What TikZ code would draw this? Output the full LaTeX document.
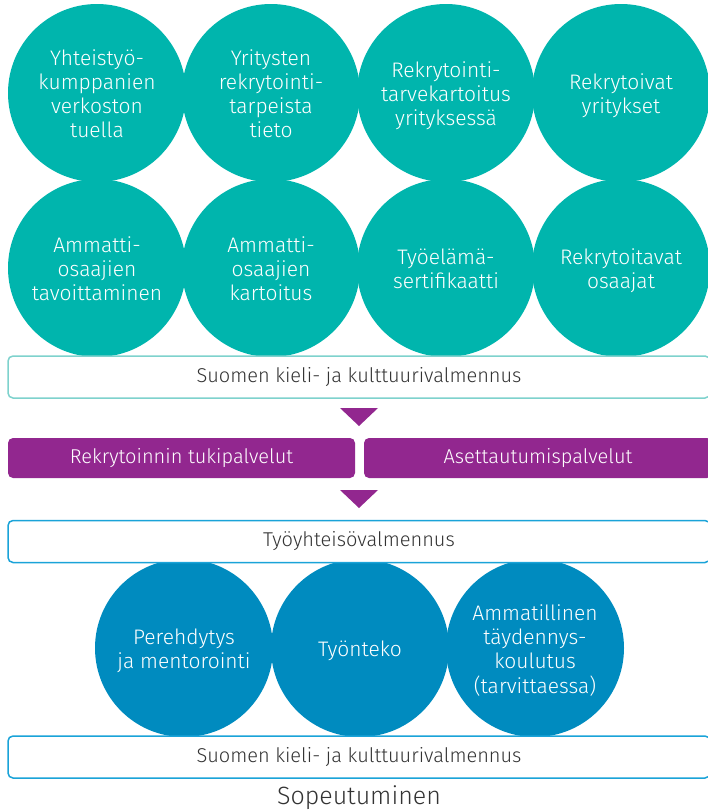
\documentclass[tikz,border=0pt]{standalone}
\usepackage{fontspec}
\setmainfont{Fira Sans Light}
\definecolor{tealc}{HTML}{00B5AD}
\definecolor{tealb}{HTML}{7ED2CD}
\definecolor{purp}{HTML}{92278F}
\definecolor{bluec}{HTML}{008BBF}
\definecolor{blueb}{HTML}{1AA3D8}
\definecolor{txtgray}{HTML}{333333}
\newcommand\ctxt[1]{\raisebox{-4pt}[\height][\depth]{\begin{tabular}{@{}c@{}}#1\end{tabular}}}
\begin{document}
\begin{tikzpicture}[x=1pt,y=-1pt,
  tcirc/.style={circle,fill=tealc,draw=none,minimum size=178pt,inner sep=0pt,text=white,font=\fontsize{21}{24}\selectfont},
  bcirc/.style={tcirc,fill=bluec},
  obox/.style={draw=#1,line width=1.5pt,fill=white,rounded corners=5pt,minimum width=702pt,minimum height=42pt,inner sep=0pt,text=txtgray,font=\fontsize{20}{23}\selectfont},
  pbox/.style={fill=purp,rounded corners=5pt,minimum height=40pt,inner sep=0pt,text=white,font=\fontsize{20}{23}\selectfont},
  tri/.style={fill=purp,draw=none}
]
\useasboundingbox (0,0) rectangle (708,811);
\begin{scope}
\clip (0,0) rectangle (708,811);
% top row
\node[tcirc] (c1) at (97,93) {\ctxt{Yhteistyö-\\kumppanien\\verkoston\\tuella}};
\node[tcirc] (c2) at (271,93) {\ctxt{Yritysten\\rekrytointi-\\tarpeista\\tieto}};
\node[tcirc] (c3) at (446,93) {\ctxt{Rekrytointi-\\tarvekartoitus\\yrityksessä}};
\node[tcirc] (c4) at (621,93) {\ctxt{Rekrytoivat\\yritykset}};
% second row
\node[tcirc] (c5) at (97,268) {\ctxt{Ammatti-\\osaajien\\tavoittaminen}};
\node[tcirc] (c6) at (271,268) {\ctxt{Ammatti-\\osaajien\\kartoitus}};
\node[tcirc] (c7) at (446,268) {\ctxt{Työelämä-\\sertifikaatti}};
\node[tcirc] (c8) at (621,268) {\ctxt{Rekrytoitavat\\osaajat}};
% box 1
\node[obox=tealb] (b1) at (359,377) {Suomen kieli- ja kulttuurivalmennus};
% triangle 1
\fill[tri] (340,408) -- (378,408) -- (359,426) -- cycle;
% purple boxes
\node[pbox,minimum width=347pt] (p1) at (181.5,458) {Rekrytoinnin tukipalvelut};
\node[pbox,minimum width=348pt] (p2) at (538,458) {Asettautumispalvelut};
% triangle 2
\fill[tri] (340,490) -- (378,490) -- (359,508) -- cycle;
% bottom circles
\node[bcirc] (d1) at (184,648) {\ctxt{Perehdytys\\ja mentorointi}};
\node[bcirc] (d2) at (360,648) {\ctxt{Työnteko}};
\node[bcirc] (d3) at (535,648) {\ctxt{Ammatillinen\\täydennys-\\koulutus\\(tarvittaessa)}};
% box 2 and 3
\node[obox=blueb] (b2) at (359,541.5) {Työyhteisövalmennus};
\node[obox=blueb] (b3) at (359,757) {Suomen kieli- ja kulttuurivalmennus};
\end{scope}
\node[text=txtgray,font=\fontsize{25}{30}\selectfont,inner sep=0pt] (sop) at (359,798) {Sopeutuminen};
\end{tikzpicture}
\end{document}
